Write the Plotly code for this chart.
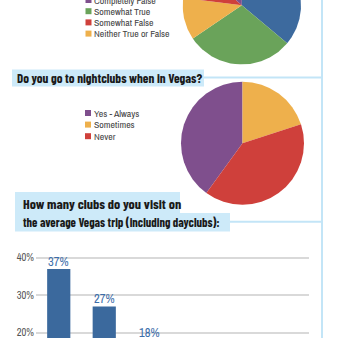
import plotly.graph_objects as go
import numpy as np

W, H = 337, 338
def X(px): return px / W
def Y(py): return 1 - py / H

TITLE_FONT = "Barlow Condensed, Archivo Narrow, DejaVu Sans Condensed, sans-serif"
TEXT_FONT = "Archivo Narrow, Barlow Condensed, DejaVu Sans Condensed, sans-serif"

# ---- data ----
# first pie, clockwise from 12 o'clock
truth_labels = ["Completely True", "Somewhat True", "Neither True or False", "Somewhat False", "Completely False"]
truth_values = [36.1, 29.4, 11.5, 9.6, 13.4]
truth_colors = ["#3d6a9e", "#6aa35a", "#eeb04c", "#cf403b", "#7f4f8d"]
truth_legend = ["Completely False", "Somewhat True", "Somewhat False", "Neither True or False"]
truth_legend_colors = ["#7f4f8d", "#6aa35a", "#cf403b", "#eeb04c"]

club_labels = ["Yes - Always", "Sometimes", "Never"]
club_values = [40, 20, 40]
club_colors = ["#7f4f8d", "#eeb04c", "#cf403b"]

visit_cats = ["1", "2", "3", "4", "5", "6+"]
visit_vals = [37, 27, 18, 9, 5, 4]

fig = go.Figure()

# ---- first pie (mostly above the view): filled wedges on a unit-circle axis pair ----
tv = np.array(truth_values, dtype=float)
edges = np.concatenate([[0], np.cumsum(tv) / tv.sum() * 360])
for lab, col, a0, a1 in zip(truth_labels, truth_colors, edges[:-1], edges[1:]):
    ang = np.radians(np.linspace(a0, a1, max(3, int(a1 - a0) + 2)))
    xs = np.concatenate([[0], np.sin(ang), [0]])
    ys = np.concatenate([[0], np.cos(ang), [0]])
    fig.add_trace(go.Scatter(x=xs, y=ys, mode="lines", fill="toself", fillcolor=col,
                             line=dict(width=0, color=col), name=lab, showlegend=False,
                             hoverinfo="skip", xaxis="x2", yaxis="y2"))

# ---- second pie ----
fig.add_trace(go.Pie(labels=club_labels, values=club_values, sort=False,
                     direction="clockwise", rotation=216,
                     marker=dict(colors=club_colors, line=dict(width=0)),
                     textinfo="none", showlegend=False,
                     domain=dict(x=[X(181), X(304)], y=[Y(205), Y(81.7)])))

# ---- bar chart ----
fig.add_trace(go.Bar(x=visit_cats, y=visit_vals, marker=dict(color="#3b699d", line=dict(width=0)),
                     showlegend=False, xaxis="x", yaxis="y"))

px_per = 3.75
ytop = 40 + (257.7 - 250) / px_per
ybot = 40 - (338 - 257.7) / px_per

shapes, annotations = [], []
LINE = "#c3e5f7"
BG = "#cdeaf9"
shapes.append(dict(type="line", xref="paper", yref="paper", x0=X(322), x1=X(322), y0=Y(0), y1=Y(338), line=dict(color=LINE, width=2)))
shapes.append(dict(type="line", xref="paper", yref="paper", x0=X(204), x1=X(322), y0=Y(77.5), y1=Y(77.5), line=dict(color=LINE, width=2)))
shapes.append(dict(type="line", xref="paper", yref="paper", x0=X(230), x1=X(322), y0=Y(221.7), y1=Y(221.7), line=dict(color=LINE, width=2)))
shapes.append(dict(type="rect", xref="paper", yref="paper", x0=X(12), x1=X(204), y0=Y(86.5), y1=Y(69.5), fillcolor=BG, line=dict(width=0), layer="below"))
shapes.append(dict(type="rect", xref="paper", yref="paper", x0=X(15), x1=X(180), y0=Y(214), y1=Y(192), fillcolor=BG, line=dict(width=0), layer="below"))
shapes.append(dict(type="rect", xref="paper", yref="paper", x0=X(15), x1=X(230), y0=Y(231.5), y1=Y(213), fillcolor=BG, line=dict(width=0), layer="below"))

for txt, xx, yy, sz in [("Do you go to nightclubs when in Vegas?", 15, 77.5, 13),
                        ("How many clubs do you visit on", 21, 203.7, 14),
                        ("the average Vegas trip (including dayclubs):", 21, 221.5, 12.3)]:
    annotations.append(dict(text=txt, xref="paper", yref="paper", x=X(xx), y=Y(yy),
                            xanchor="left", yanchor="middle", showarrow=False,
                            font=dict(family=TITLE_FONT, size=sz, weight=700, color="#1a1a1a")))

def legend(labels, colors, y0, step, xm):
    for i, (lab, col) in enumerate(zip(labels, colors)):
        yc = y0 + i * step
        shapes.append(dict(type="rect", xref="paper", yref="paper", x0=X(xm), x1=X(xm + 6), y0=Y(yc + 3), y1=Y(yc - 3),
                           fillcolor=col, line=dict(width=0)))
        annotations.append(dict(text=lab, xref="paper", yref="paper", x=X(xm + 7.5), y=Y(yc), xanchor="left",
                                yanchor="middle", showarrow=False, borderpad=0,
                                font=dict(family=TEXT_FONT, size=9.8, color="#444444")))

legend(truth_legend, truth_legend_colors, 0.0, 11.2, 85.5)
legend(club_labels, club_colors, 113, 11.6, 85)

# bar value labels, placed at each bar's value through the axes
for i, v in enumerate(visit_vals):
    if v < ybot - 1:
        continue  # label lies below the visible part of the chart
    annotations.append(dict(text=f"{v}%", xref="x", yref="y domain", x=i, y=(v - ybot) / (ytop - ybot),
                            xanchor="center", yanchor="bottom", yshift=-3, showarrow=False,
                            font=dict(family=TEXT_FONT, size=12.5, color="#3c6eaa")))

# unit-circle axes for the first pie: centre at (241.8, 5.3) px, radius 59.2 px
r_px = 59.2
fig.update_layout(
    width=W, height=H, margin=dict(l=0, r=0, t=0, b=0),
    paper_bgcolor="white", plot_bgcolor="rgba(0,0,0,0)",
    xaxis2=dict(domain=[X(241.8 - r_px), X(241.8 + r_px)], range=[-1, 1], visible=False, anchor="y2"),
    yaxis2=dict(domain=[Y(5.3 + r_px), 1], range=[-1, 5.3 / r_px], visible=False, anchor="x2"),
    xaxis=dict(domain=[X(36), X(309)], showticklabels=False, showgrid=False, zeroline=False,
               showline=False, ticks=""),
    yaxis=dict(domain=[0, Y(250)], range=[ybot, ytop], dtick=10, tick0=0, ticksuffix="%",
               showgrid=True, gridcolor="#d9d9d9", gridwidth=1.5, zeroline=False, showline=False,
               ticks="", ticklabelstandoff=1, ticklabeloverflow="allow",
               tickfont=dict(family=TEXT_FONT, size=10.5, color="#555555")),
    bargap=0.49,
    shapes=shapes, annotations=annotations,
)

fig.write_html("out.html")
